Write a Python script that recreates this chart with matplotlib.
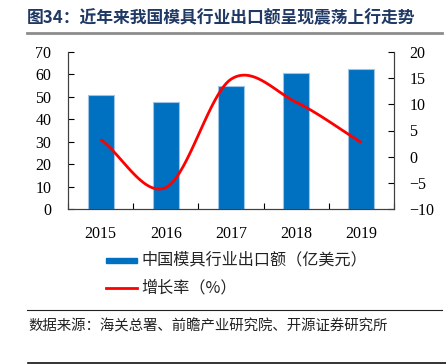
import numpy as np
import matplotlib
matplotlib.use("Agg")
import matplotlib.pyplot as plt
from matplotlib.patches import Rectangle
from matplotlib.lines import Line2D

plt.rcParams['font.family'] = ['Noto Sans CJK SC', 'DejaVu Sans']

# 数据
years = ["2015", "2016", "2017", "2018", "2019"]
export_value = [50.8, 47.8, 55.0, 60.8, 62.4]   # 亿美元
growth_rate = [3.3, -5.9, 14.8, 10.4, 2.7]      # %

bar_label = "中国模具行业出口额（亿美元）"
line_label = "增长率（%）"
title = "图34：近年来我国模具行业出口额呈现震荡上行走势"
source = "数据来源：海关总署、前瞻产业研究院、开源证券研究所"

BAR_COLOR = "#0070C0"
LINE_COLOR = "#FF0000"
W, H = 446, 364


def smooth(xs, ys, n=30):
    # Catmull-Rom 平滑, 类似 Excel 的平滑线
    xs = np.asarray(xs, float)
    ys = np.asarray(ys, float)
    px = np.concatenate([[2 * xs[0] - xs[1]], xs, [2 * xs[-1] - xs[-2]]])
    py = np.concatenate([[2 * ys[0] - ys[1]], ys, [2 * ys[-1] - ys[-2]]])
    out_x, out_y = [], []
    t = np.linspace(0, 1, n)
    for i in range(1, len(px) - 2):
        for p, out in ((px, out_x), (py, out_y)):
            p0, p1, p2, p3 = p[i - 1], p[i], p[i + 1], p[i + 2]
            seg = 0.5 * ((2 * p1) + (-p0 + p2) * t
                         + (2 * p0 - 5 * p1 + 4 * p2 - p3) * t ** 2
                         + (-p0 + 3 * p1 - 3 * p2 + p3) * t ** 3)
            out.extend(seg)
    return np.array(out_x), np.array(out_y)


fig = plt.figure(figsize=(W / 100, H / 100), dpi=100)
ax = fig.add_axes([68 / W, 1 - 209 / H, 326 / W, 157 / H])
ax2 = ax.twinx()

x = np.arange(len(years))
ax.bar(x, export_value, width=0.4, color=BAR_COLOR, edgecolor="#9DC3E6", linewidth=0.8, zorder=2)
sx, sy = smooth(x, growth_rate)
ax2.plot(sx, sy, color=LINE_COLOR, linewidth=2, solid_capstyle="butt")

ax.set_xlim(-0.5, len(years) - 0.5)
ax.set_ylim(0, 70)
ax.set_yticks(range(0, 71, 10))
ax2.set_ylim(-10, 20)
ax2.set_yticks(range(-10, 21, 5))

ax.set_xticks(x)
ax.set_xticklabels(years)
ax.set_xticks(np.arange(-0.5, len(years), 1), minor=True)
ax.tick_params(axis="x", which="major", length=0, pad=12)
ax.tick_params(axis="x", which="minor", length=4, direction="in", width=0.8)
ax.tick_params(axis="y", length=4, direction="in", width=0.8, pad=12)
ax2.tick_params(axis="y", length=4, direction="in", width=0.8, pad=11)

for a in (ax, ax2):
    a.spines["top"].set_visible(False)
    for s in a.spines.values():
        s.set_color("#404040")
        s.set_linewidth(0.8)
    for lab in a.get_xticklabels() + a.get_yticklabels():
        lab.set_fontfamily("Liberation Serif")
        lab.set_fontsize(11.5)

# 标题
fig.text(27 / W, 1 - 18 / H, title, fontsize=12.1, fontweight="bold", color="#1F3864",
         ha="left", va="center")
fig.add_artist(Line2D([27 / W, 442 / W], [1 - 33 / H] * 2, color="#8C8C8C", linewidth=2))

# 图例
fig.add_artist(Rectangle((106 / W, 1 - 263 / H), 31 / W, 5.5 / H, color=BAR_COLOR))
fig.text(141 / W, 1 - 260 / H, bar_label, fontsize=11.6, ha="left", va="center", color="#222222")
fig.add_artist(Line2D([106 / W, 137 / W], [1 - 288 / H] * 2, color=LINE_COLOR, linewidth=2))
fig.text(141 / W, 1 - 288 / H, line_label, fontsize=11.6, ha="left", va="center", color="#222222")

# 来源
fig.add_artist(Line2D([27 / W, 442 / W], [1 - 310 / H] * 2, color="#222222", linewidth=0.8))
fig.text(28 / W, 1 - 326 / H, source, fontsize=10.4, ha="left", va="center", color="#222222")
fig.add_artist(Line2D([28 / W, 446 / W], [1 - 363 / H] * 2, color="#111111", linewidth=1.2))

fig.savefig("out.png", dpi=100)
